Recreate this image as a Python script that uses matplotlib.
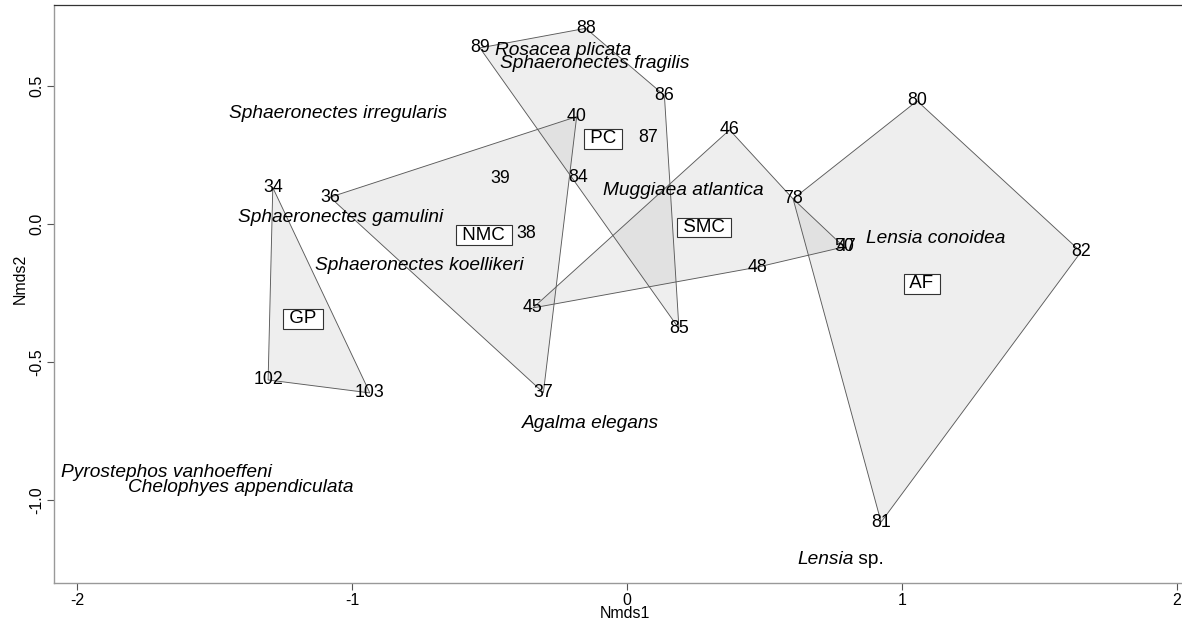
import matplotlib
matplotlib.use("Agg")
import matplotlib.pyplot as plt
from matplotlib.patches import Polygon

plt.rcParams['font.family'] = ['Liberation Sans', 'DejaVu Sans']

# ---- data ----
site_labels = ["34", "36", "39", "84", "40", "38", "45", "37", "102", "103",
               "88", "89", "86", "87", "46", "80", "78", "50", "47", "48",
               "82", "85", "81"]
site_x = [-1.288, -1.080, -0.462, -0.176, -0.183, -0.367, -0.342, -0.304, -1.305, -0.935,
          -0.150, -0.535, 0.136, 0.076, 0.373, 1.055, 0.604, 0.789, 0.800, 0.476,
          1.651, 0.189, 0.924]
site_y = [0.132, 0.097, 0.165, 0.168, 0.389, -0.033, -0.304, -0.611, -0.565, -0.612,
          0.709, 0.638, 0.466, 0.313, 0.341, 0.446, 0.091, -0.083, -0.083, -0.156,
          -0.101, -0.379, -1.080]

group_names = ["GP", "NMC", "PC", "SMC", "AF"]
group_x = [-1.178, -0.520, -0.087, 0.280, 1.073]
group_y = [-0.344, -0.040, 0.308, -0.014, -0.217]
hull_vertices = [["34", "102", "103"],
                 ["36", "40", "37"],
                 ["89", "88", "86", "85"],
                 ["45", "46", "78", "50", "48"],
                 ["78", "80", "82", "81"]]

species_names = ["Sphaeronectes irregularis", "Sphaeronectes gamulini",
                 "Sphaeronectes koellikeri", "Rosacea plicata",
                 "Sphaeronectes fragilis", "Muggiaea atlantica",
                 "Lensia conoidea", "Agalma elegans",
                 "Pyrostephos vanhoeffeni", "Chelophyes appendiculata"]
species_x = [-1.049, -1.040, -0.755, -0.233, -0.116, 0.205, 1.124, -0.131, -1.676, -1.404]
species_y = [0.402, 0.022, -0.149, 0.630, 0.580, 0.123, -0.054, -0.721, -0.899, -0.953]

lensia_sp_x = 0.618   # left edge of "Lensia sp."
lensia_sp_y = -1.214

x_ticks = [-2, -1, 0, 1, 2]
y_ticks = [-1.0, -0.5, 0.0, 0.5]

# ---- figure ----
W, H = 1182, 627
fig = plt.figure(figsize=(W / 100, H / 100), dpi=100)
left_px, right_px, top_px, bottom_px = 54, 1196, 5, 583
ax = fig.add_axes([left_px / W, (H - bottom_px) / H,
                   (right_px - left_px) / W, (bottom_px - top_px) / H])
ax.set_xlim(-2.0836, 2.0691)
ax.set_ylim(-1.3007, 0.7935)

pos = {lab: (x, y) for lab, x, y in zip(site_labels, site_x, site_y)}

for verts in hull_vertices:
    pts = [pos[v] for v in verts]
    ax.add_patch(Polygon(pts, closed=True, facecolor='#bebebe', alpha=0.25,
                         edgecolor='none', zorder=1))
    ax.add_patch(Polygon(pts, closed=True, fill=False, edgecolor='#5a5a5a',
                         linewidth=0.65, zorder=2))

for lab, x, y in zip(site_labels, site_x, site_y):
    ax.text(x, y, lab, ha='center', va='center', fontsize=12.8, color='black', zorder=3)

for name, x, y in zip(group_names, group_x, group_y):
    ax.text(x, y, " " + name + " ", ha='center', va='center', fontsize=13.5, zorder=4,
            bbox=dict(boxstyle='square,pad=0.06', facecolor='white',
                      edgecolor='#333333', linewidth=0.8))

for name, x, y in zip(species_names, species_x, species_y):
    ax.text(x, y, name, ha='center', va='center', fontsize=13.8, style='italic', zorder=3)

t = ax.text(lensia_sp_x, lensia_sp_y, "Lensia", ha='left', va='center',
            fontsize=13.8, style='italic', zorder=3)
ax.annotate(" sp.", xy=(1, 0.5), xycoords=t, ha='left', va='center', fontsize=13.8)

ax.set_xticks(x_ticks)
ax.set_xticklabels([f"{v:g}" for v in x_ticks])
ax.set_yticks(y_ticks)
ax.set_yticklabels([f"{v:.1f}" for v in y_ticks], rotation=90, va='center')
ax.tick_params(axis='both', direction='out', length=5, width=0.8, color='#555555',
               labelsize=11.5, pad=2)

for side in ['left', 'bottom']:
    ax.spines[side].set_color('#999999')
    ax.spines[side].set_linewidth(1.0)
ax.spines['top'].set_color('#333333')
ax.spines['top'].set_linewidth(0.9)
ax.spines['right'].set_color('#333333')

ax.set_xlabel("Nmds1", fontsize=11.5)
ax.xaxis.set_label_coords((625 - left_px) / (right_px - left_px),
                          (bottom_px - 614) / (bottom_px - top_px))
ax.xaxis.label.set_va('center')
ax.set_ylabel("Nmds2", fontsize=11.5)
ax.yaxis.set_label_coords((20 - left_px) / (right_px - left_px),
                          (bottom_px - 279) / (bottom_px - top_px))
ax.yaxis.label.set_va('center')

fig.savefig("out.png", dpi=100)
